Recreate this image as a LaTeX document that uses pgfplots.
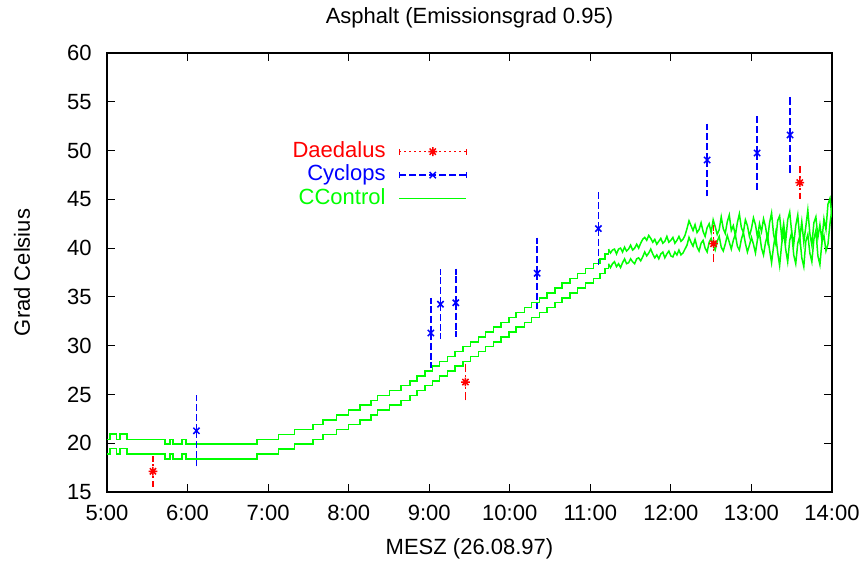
\documentclass[border=0pt]{standalone}
\usepackage{fontspec}
\setmainfont{Liberation Sans}
\usepackage{pgfplots}
\pgfplotsset{compat=1.18}
\usepackage{pgfplotstable}

% gnuplot style star: + and x on top of each other
\pgfdeclareplotmark{gpstar}{%
  \pgfpathmoveto{\pgfpoint{-\pgfplotmarksize}{0pt}}%
  \pgfpathlineto{\pgfpoint{\pgfplotmarksize}{0pt}}%
  \pgfpathmoveto{\pgfpoint{0pt}{-\pgfplotmarksize}}%
  \pgfpathlineto{\pgfpoint{0pt}{\pgfplotmarksize}}%
  \pgfpathmoveto{\pgfpoint{-.7071\pgfplotmarksize}{-.7071\pgfplotmarksize}}%
  \pgfpathlineto{\pgfpoint{.7071\pgfplotmarksize}{.7071\pgfplotmarksize}}%
  \pgfpathmoveto{\pgfpoint{-.7071\pgfplotmarksize}{.7071\pgfplotmarksize}}%
  \pgfpathlineto{\pgfpoint{.7071\pgfplotmarksize}{-.7071\pgfplotmarksize}}%
  \pgfusepathqstroke}

% Daedalus: time, temperature, error
\pgfplotstableread{
t y e
5.57 17.12 1.25
9.45 26.27 1.57
12.53 40.45 1.57
13.60 46.72 1.37
}\daedalus

% Cyclops
\pgfplotstableread{
t y e
6.11 21.27 3.33
9.02 31.30 3.28
9.14 34.25 3.27
9.33 34.40 3.20
10.34 37.42 3.35
11.10 42.00 3.40
12.45 49.03 3.42
13.07 49.75 3.45
13.48 51.60 3.60
}\cyclops

% CControl, stepped part (upper u / lower l)
\pgfplotstableread{
t u l
5.00 20.4 18.9
5.04 20.95 19.45
5.12 20.4 18.9
5.16 20.95 19.45
5.25 20.4 18.9
5.72 19.9 18.4
5.78 20.4 18.9
5.82 19.9 18.4
5.93 20.4 18.9
5.98 19.9 18.4
6.86 20.4 18.9
7.13 20.9 19.4
7.33 21.4 19.9
7.56 21.9 20.4
7.68 22.4 20.9
7.85 22.9 21.4
8.00 23.4 21.9
8.14 23.9 22.4
8.28 24.4 22.9
8.36 24.9 23.4
8.51 25.4 23.9
8.65 25.9 24.4
8.76 26.4 24.9
8.85 26.9 25.4
8.95 27.4 25.9
9.04 27.9 26.4
9.13 28.4 26.9
9.23 28.9 27.4
9.32 29.4 27.9
9.42 29.9 28.4
9.51 30.4 28.9
9.61 30.9 29.4
9.70 31.4 29.9
9.80 31.9 30.4
9.89 32.4 30.9
9.99 32.9 31.4
10.08 33.4 31.9
10.18 33.9 32.4
10.27 34.4 32.9
10.37 34.9 33.4
10.46 35.4 33.9
10.56 35.9 34.4
10.65 36.4 34.9
10.75 36.9 35.4
10.84 37.4 35.9
10.94 37.9 36.4
11.04 38.4 36.9
11.12 38.9 37.4
11.18 39.4 37.9
11.225 39.9 38.4
}\ccstep

% CControl, noisy part
\pgfplotstableread{
t u l
11.225 39.9 38.4
11.250 39.5 38.0
11.275 39.8 38.4
11.300 39.9 38.6
11.325 39.4 38.1
11.350 39.9 38.4
11.375 40.0 38.0
11.400 39.6 38.5
11.425 40.1 38.9
11.450 39.7 38.4
11.475 39.9 38.5
11.500 40.3 38.9
11.525 39.8 38.6
11.550 40.0 38.4
11.575 40.4 38.9
11.600 40.0 39.0
11.625 40.5 38.7
11.650 40.9 39.1
11.675 41.1 39.6
11.700 40.8 39.2
11.725 41.3 39.5
11.750 41.0 39.9
11.775 40.6 39.4
11.800 40.9 39.0
11.825 40.4 39.3
11.850 40.7 38.9
11.875 41.0 39.4
11.900 40.5 39.6
11.925 40.7 39.0
11.950 41.2 39.4
11.975 40.6 39.7
12.000 40.8 39.2
12.025 41.1 39.1
12.050 40.5 39.6
12.075 40.8 39.3
12.100 41.2 39.8
12.125 40.7 39.3
12.150 40.9 39.5
12.175 41.3 39.9
12.200 42.0 40.3
12.225 42.8 41.1
12.250 42.3 40.6
12.275 41.8 40.2
12.300 42.4 40.9
12.325 41.6 40.1
12.350 41.9 39.7
12.375 42.6 40.5
12.400 41.7 40.8
12.425 41.2 40.0
12.450 42.1 39.6
12.475 42.5 40.6
12.500 41.6 41.0
12.525 42.9 40.3
12.550 42.2 39.8
12.575 41.4 40.7
12.600 41.9 41.2
12.625 43.2 40.1
12.650 42.0 39.7
12.675 41.5 40.4
12.700 42.7 41.3
12.725 43.4 40.6
12.750 41.8 39.9
12.775 42.3 40.8
12.800 41.3 41.4
12.825 42.6 40.2
12.850 43.5 39.8
12.875 42.1 40.9
12.900 41.6 41.6
12.925 42.9 40.5
12.950 42.3 39.6
12.975 41.2 40.3
13.000 42.0 41.1
13.025 43.1 40.4
13.050 42.4 39.5
13.075 41.1 40.9
13.100 42.5 41.5
13.125 41.7 40.0
13.150 43.0 39.3
13.175 42.2 40.6
13.200 40.8 41.3
13.225 42.6 39.8
13.250 43.6 38.5
13.275 41.4 40.2
13.300 40.5 41.5
13.325 42.8 39.6
13.350 43.3 38.2
13.375 41.2 40.4
13.400 42.5 41.7
13.425 40.7 39.9
13.450 42.9 38.6
13.475 43.7 40.8
13.500 41.6 41.6
13.525 40.4 39.3
13.550 42.3 38.4
13.575 43.4 40.5
13.600 41.0 41.2
13.625 42.7 39.0
13.650 40.6 38.1
13.675 42.2 40.7
13.700 43.9 41.4
13.725 41.5 39.5
13.750 40.3 38.6
13.775 42.6 40.9
13.800 43.2 41.8
13.825 41.1 39.2
13.850 42.4 38.3
13.875 40.8 40.6
13.900 43.0 41.3
13.925 41.9 39.7
13.950 44.5 40.4
13.975 45.1 42.5
14.000 43.2 44.1
}\ccnoise

\begin{document}
\begin{tikzpicture}
\begin{axis}[
    at={(0,0)}, anchor=south west,
    scale only axis,
    width=362.5bp, height=219.5bp,
    xmin=5, xmax=14, ymin=15, ymax=60,
    xtick={5,6,...,14},
    xticklabels={5:00,6:00,7:00,8:00,9:00,10:00,11:00,12:00,13:00,14:00},
    ytick={15,20,...,60},
    tick align=inside,
    major tick length=4bp,
    axis line style={line width=0.6bp},
    every tick/.style={black, line width=0.6bp},
    font=\fontsize{11bp}{13bp}\selectfont,
    /pgf/number format/assume math mode=true,
    xticklabel style={inner sep=0pt, yshift=-6.5bp},
    yticklabel style={inner sep=0pt, xshift=-7.5bp},
    title={Asphalt (Emissionsgrad 0.95)},
    every axis title shift=0pt,
    title style={at={(axis description cs:0.5,1.0797)}, anchor=center, yshift=0pt, inner sep=0pt},
    xlabel={MESZ (26.08.97)},
    xlabel style={at={(axis description cs:0.5,-0.1298)}, anchor=center, inner sep=0pt},
    ylabel={Grad Celsius},
    ylabel style={at={(axis description cs:-0.1172,0.5)}, anchor=center, inner sep=0pt},
    legend plot pos=right,
    legend cell align=right,
    legend style={at={(axis description cs:0.4966,0.797)}, anchor=north east,
        draw=none, fill=none, inner sep=0pt, outer sep=0pt,
        row sep=2.25bp, column sep=6.5bp,
        nodes={inner sep=0pt, text height=7.5bp, text depth=2bp},
        font=\fontsize{11bp}{13bp}\selectfont},
]
\addlegendimage{legend image code/.code={
    \draw[red, line width=0.75bp, dash pattern=on 1bp off 1.5bp] (0bp,0bp) -- (33.5bp,0bp);
    \draw[red, line width=0.75bp] (0bp,-1.5bp) -- (0bp,1.5bp) (33.5bp,-1.5bp) -- (33.5bp,1.5bp);
    \draw[red, line width=0.75bp, mark=gpstar, mark size=2.2bp] plot coordinates {(16.75bp,0bp)};
}}
\addlegendentry[text=red]{Daedalus}
\addlegendimage{legend image code/.code={
    \draw[blue, line width=0.75bp, dash pattern=on 3.5bp off 1.5bp] (0bp,0bp) -- (33.5bp,0bp);
    \draw[blue, line width=0.75bp] (0bp,-1.5bp) -- (0bp,1.5bp) (33.5bp,-1.5bp) -- (33.5bp,1.5bp);
    \draw[blue, line width=0.75bp, mark=x, mark size=2.2bp] plot coordinates {(16.75bp,0bp)};
}}
\addlegendentry[text=blue]{Cyclops}
\addlegendimage{legend image code/.code={
    \draw[green, line width=0.75bp] (0bp,0bp) -- (33.5bp,0bp);
}}
\addlegendentry[text=green]{CControl}

% CControl
\addplot[green, line width=0.75bp, const plot, forget plot] table[x=t, y=u] {\ccstep};
\addplot[green, line width=0.75bp, const plot, forget plot] table[x=t, y=l] {\ccstep};
\addplot[green, line width=0.75bp, forget plot] table[x=t, y=u] {\ccnoise};
\addplot[green, line width=0.75bp, forget plot] table[x=t, y=l] {\ccnoise};

% Daedalus
\addplot[red, only marks, mark=gpstar, mark size=2.2bp, line width=0.75bp, forget plot,
    error bars/.cd, y dir=both, y explicit,
    error bar style={red, line width=0.75bp, dash pattern=on 1bp off 1.5bp},
    error mark options={red, solid, mark size=1.5bp, line width=0.75bp}]
    table[x=t, y=y, y error=e] {\daedalus};

% Cyclops
\addplot[blue, only marks, mark=x, mark size=2.2bp, line width=0.75bp, forget plot,
    error bars/.cd, y dir=both, y explicit,
    error bar style={blue, line width=0.75bp, dash pattern=on 3.5bp off 1.5bp},
    error mark options={blue, solid, mark size=1.5bp, line width=0.75bp}]
    table[x=t, y=y, y error=e] {\cyclops};
\end{axis}
\pgfresetboundingbox
\path (-53.5bp,-38.5bp) rectangle (379bp,246bp);
\end{tikzpicture}
\end{document}
